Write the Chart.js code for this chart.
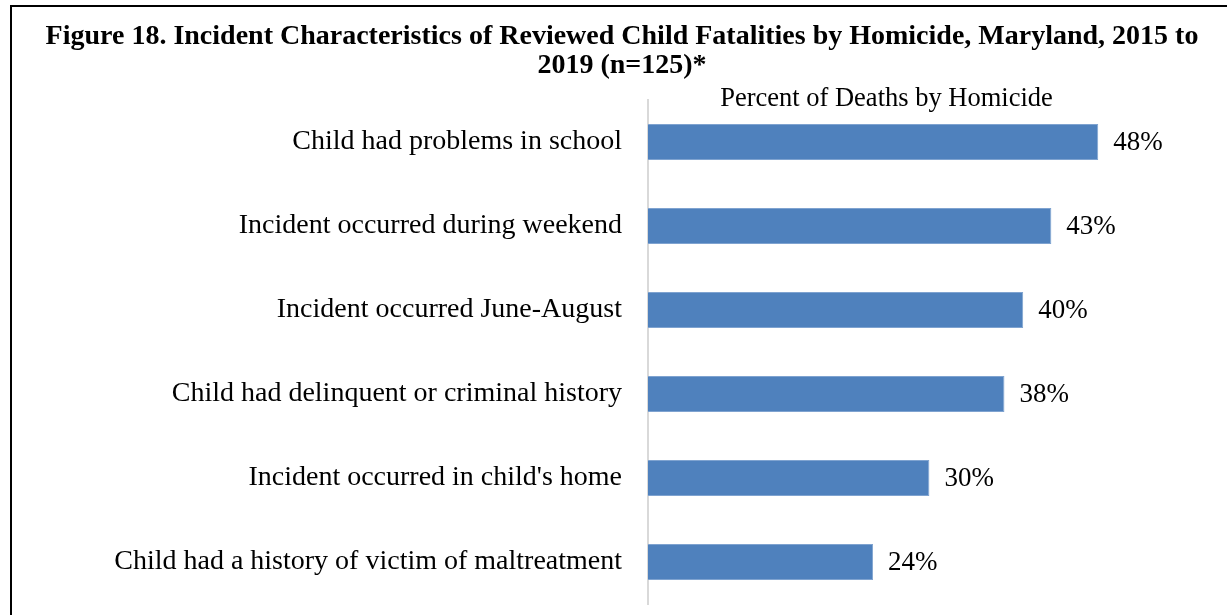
<!DOCTYPE html>
<html>
<head>
<meta charset="utf-8">
<script src="https://cdn.jsdelivr.net/npm/chart.js@4.4.1/dist/chart.umd.min.js"></script>
<style>
  html, body { margin: 0; padding: 0; background: #fff; overflow: hidden; width: 1227px; height: 615px; }
  #frame { position: absolute; left: 10px; top: 5px; width: 1240px; height: 640px; border-left: 2px solid #000; border-top: 2px solid #000; }
  #wrap { position: absolute; left: 12px; top: 7px; width: 1220px; height: 608px; }
</style>
</head>
<body>
<div id="frame"></div>
<div id="wrap"><canvas id="c"></canvas></div>
<script>
const titleLines = ["Figure 18. Incident Characteristics of Reviewed Child Fatalities by Homicide, Maryland, 2015 to", "2019 (n=125)*"];
const seriesLabel = "Percent of Deaths by Homicide";
const categories = [
  "Child had problems in school",
  "Incident occurred during weekend",
  "Incident occurred June-August",
  "Child had delinquent or criminal history",
  "Incident occurred in child's home",
  "Child had a history of victim of maltreatment"
];
const values = [48, 43, 40, 38, 30, 24];
const axisMin = 0;
const axisMax = 50;

const FONT = "'Liberation Serif', 'Times New Roman', serif";

const labelPlugin = {
  id: 'barLabels',
  afterDatasetsDraw(chart) {
    const ctx = chart.ctx;
    const meta = chart.getDatasetMeta(0);
    ctx.save();
    ctx.font = "27px " + FONT;
    ctx.fillStyle = "#000";
    ctx.textAlign = "left";
    ctx.textBaseline = "middle";
    meta.data.forEach((el, i) => {
      ctx.fillText(values[i] + "%", el.x + 15, el.y + 1);
    });
    const ca = chart.chartArea;
    ctx.font = "26.5px " + FONT;
    ctx.textAlign = "center";
    ctx.textBaseline = "alphabetic";
    ctx.fillText(seriesLabel, (ca.left + ca.right) / 2 + 4, ca.top + 6);
    ctx.restore();
  }
};

new Chart(document.getElementById('c'), {
  type: 'bar',
  data: {
    labels: categories,
    datasets: [{
      label: seriesLabel,
      data: values,
      backgroundColor: '#4F81BD',
      borderColor: '#7FA3D0',
      borderWidth: 1,
      categoryPercentage: 1,
      barPercentage: 0.43
    }]
  },
  options: {
    indexAxis: 'y',
    responsive: true,
    maintainAspectRatio: false,
    animation: false,
    devicePixelRatio: 1,
    layout: { padding: { left: 0, right: 0, top: 15, bottom: 11 } },
    plugins: {
      legend: { display: false },
      tooltip: { enabled: false },
      title: {
        display: true,
        text: titleLines,
        color: '#000',
        font: { family: FONT, size: 28, weight: 'bold', lineHeight: 1.035 },
        padding: { top: 0, bottom: 20 }
      }
    },
    scales: {
      x: { display: false, min: axisMin, max: axisMax },
      y: {
        afterFit(s) { s.width = 636; },
        grid: { display: true, drawOnChartArea: false, drawTicks: true, tickLength: 26, color: 'rgba(0,0,0,0)', tickColor: 'rgba(0,0,0,0)' },
        border: { display: true, color: '#D9D9D9', width: 2 },
        ticks: { color: '#000', padding: 0, font: { family: FONT, size: 28, lineHeight: 0.7 } }
      },
      yRight: {
        type: 'category',
        position: 'right',
        labels: categories,
        afterFit(s) { s.width = 115; },
        grid: { display: false, drawTicks: false },
        border: { display: false },
        ticks: { display: false }
      }
    }
  },
  plugins: [labelPlugin]
});
</script>
</body>
</html>
